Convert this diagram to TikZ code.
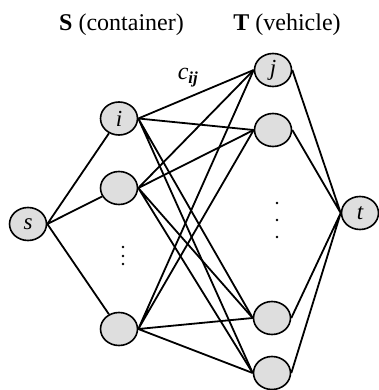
\documentclass[tikz,border=0pt]{standalone}
\usepackage{fontspec}
\setmainfont{Liberation Serif}
\usetikzlibrary{shapes.geometric}

\begin{document}
\begin{tikzpicture}[x=10pt, y=-10pt]
\tikzset{
vertex/.style={draw, shape=ellipse, fill=black!13, line width=1.6pt,
  minimum width=37pt, minimum height=33pt, inner sep=0pt,
  font=\fontsize{23}{27}\selectfont\itshape},
head/.style={font=\fontsize{24}{28}\selectfont},
arc/.style={line width=1.8pt}
}
	\useasboundingbox (0,0) rectangle (37.8,39);

	% titles
	\node[head] at (12.15, 2.5) (hs) {\textbf{S} (container)};
	\node[head] at (28.7, 2.5) (ht) {\textbf{T} (vehicle)};

	% source and sink
	\node[vertex] at (2.8, 22.4) (s) {s};
	\node[vertex] at (36.0, 21.3) (t) {t};

	% containers
	\node[vertex] at (11.9, 11.85) (i) {i};
	\node[vertex] at (11.9, 18.8) (a2) {};
	\node[vertex] at (11.9, 32.9) (a3) {};

	% vehicles
	\node[vertex] at (27.3, 7.0) (j) {j};
	\node[vertex] at (27.3, 13.0) (b2) {};
	\node[vertex] at (27.2, 31.8) (b3) {};
	\node[vertex] at (27.2, 37.3) (b4) {};

	\node[font=\fontsize{24}{28}\selectfont\itshape] at (18.8, 7.8) (c) {c\textsubscript{\bfseries ij}};

	% dots
	\fill (12.3,24.7) circle (1.3pt) (12.3,25.6) circle (1.3pt) (12.3,26.4) circle (1.3pt);
	\fill (27.7,20.3) circle (1.3pt) (27.7,22.0) circle (1.3pt) (27.7,23.7) circle (1.3pt);

	\draw[arc] (s.east) -- (i) (s.east) -- (a2) (s.east) -- (a3);

	\draw[arc] (i.east) -- (j.west) (i.east) -- (b2.west) (i.east) -- (b3.west) (i.east) -- (b4.west);
	\draw[arc] (a2.east) -- (j.west) (a2.east) -- (b2.west) (a2.east) -- (b3.west) (a2.east) -- (b4.west);
	\draw[arc] (a3.east) -- (j.west) (a3.east) -- (b2.west) (a3.east) -- (b3.west) (a3.east) -- (b4.west);

	\draw[arc] (j.east) -- (t.west) (b2.east) -- (t.west) (b3.east) -- (t.west) (b4.east) -- (t.west);

\end{tikzpicture}
\end{document}
